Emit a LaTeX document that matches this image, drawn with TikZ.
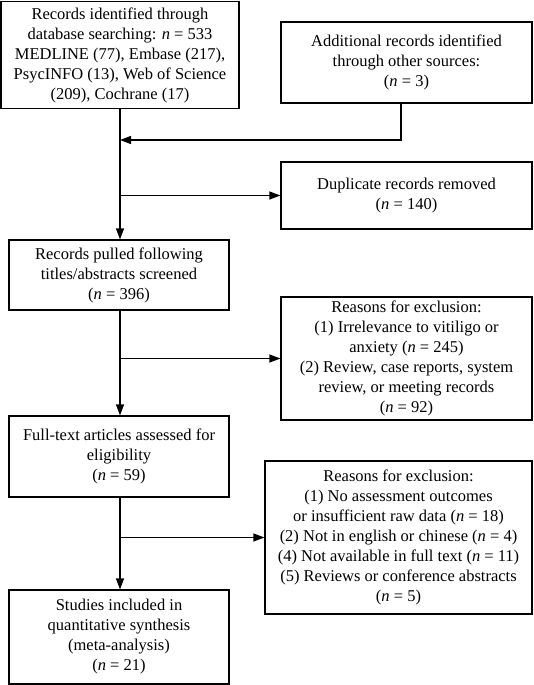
\documentclass[tikz,border=0pt]{standalone}
\usepackage{fontspec}
\setmainfont{Liberation Serif}
\usetikzlibrary{arrows.meta}

\tikzset{
  box/.style={draw, line width=1.2pt, align=center, inner sep=2pt,
    font=\fontsize{16.5}{20}\selectfont},
  flow/.style={line width=1.2pt, -{Triangle[length=11pt,width=8pt]}}
}

\begin{document}
\begin{tikzpicture}[x=1pt,y=-1pt]
    \useasboundingbox (0,0) rectangle (533,685);
    \node[box, minimum width=238pt, minimum height=107pt] (n0) at (120,55) {Records identified through\\database searching: \textit{n} = 533\\MEDLINE (77), Embase (217),\\PsycINFO (13), Web of Science\\(209), Cochrane (17)};
    \node[box, minimum width=251pt, minimum height=81pt] (n1) at (406.5,62.5) {Additional records identified\\through other sources:\\(\textit{n} = 3)};
    \node[box, minimum width=251pt, minimum height=67pt] (n2) at (406.5,195.5) {Duplicate records removed\\(\textit{n} = 140)};
    \node[box, minimum width=220pt, minimum height=70pt] (n3) at (119,275) {Records pulled following\\titles/abstracts screened\\(\textit{n} = 396)};
    \node[box, minimum width=251pt, minimum height=123pt] (n4) at (406.5,358.5) {Reasons for exclusion:\\(1) Irrelevance to vitiligo or\\anxiety (\textit{n} = 245)\\(2) Review, case reports, system\\review, or meeting records\\(\textit{n} = 92)};
    \node[box, minimum width=220pt, minimum height=81pt] (n5) at (119,456.5) {Full-text articles assessed for\\eligibility\\(\textit{n} = 59)};
    \node[box, minimum width=267pt, minimum height=153pt] (n6) at (398.5,537.5) {Reasons for exclusion:\\(1) No assessment outcomes\\or insufficient raw data (\textit{n} = 18)\\(2) Not in english or chinese (\textit{n} = 4)\\(4) Not available in full text (\textit{n} = 11)\\(5) Reviews or conference abstracts\\(\textit{n} = 5)};
    \node[box, minimum width=220pt, minimum height=94pt] (n7) at (119,637) {Studies included in\\quantitative synthesis\\(meta-analysis)\\(\textit{n} = 21)};
    \coordinate (j0) at (120,140);
    \coordinate (j1) at (120,195.5);
    \coordinate (j2) at (120,358.5);
    \coordinate (j3) at (120,537.5);
    \draw[line width=1.2pt] (n0.south -| j0) -- (j0);
    \draw[flow] (n1.south -| 401,0) |- (j0);
    \draw[line width=1.2pt] (j0) -- (j1);
    \draw[flow] (j1) -- (n2);
    \draw[flow] (j1) -- (n3.north -| j1);
    \draw[line width=1.2pt] (n3.south -| j2) -- (j2);
    \draw[flow] (j2) -- (n4);
    \draw[flow] (j2) -- (n5.north -| j2);
    \draw[line width=1.2pt] (n5.south -| j3) -- (j3);
    \draw[flow] (j3) -- (n6);
    \draw[flow] (j3) -- (n7.north -| j3);
  \end{tikzpicture}
\end{document}
